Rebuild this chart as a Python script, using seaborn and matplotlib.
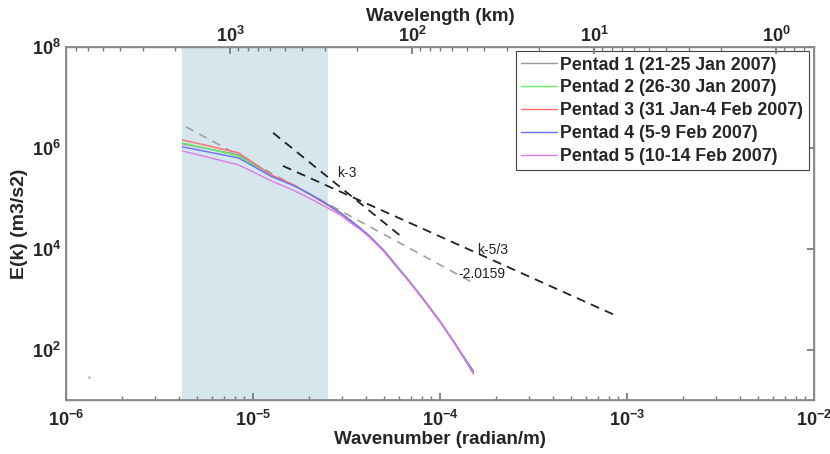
import numpy as np
import pandas as pd
import seaborn as sns
import matplotlib
matplotlib.use("Agg")
import matplotlib.pyplot as plt
from matplotlib.ticker import LogLocator, NullFormatter, FuncFormatter

# ---------------- data ----------------
domain_length_m = 1.5e6
dk = 2 * np.pi / domain_length_m
mode_index = [1, 2, 3, 4, 5, 6, 7, 8, 9, 10, 12, 14, 16, 18, 20, 24, 28, 32, 36]
wavenumber = [n * dk for n in mode_index]

pentad_labels = ["Pentad 1 (21-25 Jan 2007)", "Pentad 2 (26-30 Jan 2007)",
                 "Pentad 3 (31 Jan-4 Feb 2007)", "Pentad 4 (5-9 Feb 2007)",
                 "Pentad 5 (10-14 Feb 2007)"]
pentad1 = [1.20e6, 7.3e5, 2.80e5, 1.76e5, 1.11e5, 7.4e4, 5.10e4, 3.50e4, 2.45e4, 1.78e4,
           9.0e3, 4.50e3, 2.50e3, 1.44e3, 870, 350, 152, 70, 36]
pentad2 = [1.26e6, 6.9e5, 2.75e5, 1.78e5, 1.12e5, 7.5e4, 5.20e4, 3.55e4, 2.50e4, 1.80e4,
           9.2e3, 4.60e3, 2.55e3, 1.46e3, 880, 355, 150, 72, 38]
pentad3 = [1.44e6, 7.96e5, 2.90e5, 1.80e5, 1.10e5, 7.3e4, 5.00e4, 3.45e4, 2.40e4, 1.75e4,
           8.8e3, 4.40e3, 2.45e3, 1.40e3, 850, 345, 148, 68, 33]
pentad4 = [1.05e6, 6.3e5, 2.70e5, 1.74e5, 1.12e5, 7.5e4, 5.15e4, 3.55e4, 2.50e4, 1.80e4,
           9.1e3, 4.55e3, 2.50e3, 1.45e3, 875, 352, 153, 71, 37]
pentad5 = [8.7e5, 4.6e5, 2.20e5, 1.40e5, 9.2e4, 6.4e4, 4.66e4, 3.20e4, 2.35e4, 1.70e4,
           8.7e3, 4.40e3, 2.45e3, 1.42e3, 860, 348, 150, 69, 34]
pentad_colors = ["#9a9a9a", "#66ee66", "#ff6e6e", "#6e6eff", "#e07ae6"]

# reference slopes: (k start, k end, E at k start, slope)
k3_kstart, k3_kend, k3_E0, k3_slope = 1.28e-5, 6.27e-5, 1.99e6, -3.0
k53_kstart, k53_kend, k53_E0, k53_slope = 1.445e-5, 8.63e-4, 4.39e5, -5.0 / 3.0
fit_kstart, fit_kend, fit_E0, fit_slope = 4.39e-6, 1.5e-4, 2.61e6, -2.0159

# shaded band: wavelengths 1500 km to 250 km
band_wavelength_km = [1500, 250]
stray_point = (1.33e-6, 29)

# ---------------- style ----------------
sns.set_theme(style="white")
plt.rcParams["font.family"] = ["Liberation Sans", "DejaVu Sans"]
plt.rcParams["mathtext.fontset"] = "custom"
plt.rcParams["mathtext.rm"] = "Liberation Sans:bold"
plt.rcParams["mathtext.it"] = "Liberation Sans:bold"
plt.rcParams["mathtext.bf"] = "Liberation Sans:bold"
plt.rcParams["axes.unicode_minus"] = False

fig = plt.figure(figsize=(8.3, 4.54), dpi=100)
ax = fig.add_axes([66 / 830, 1 - 400 / 454, 748 / 830, 353 / 454])

rows = []
for lab, vals in zip(pentad_labels, [pentad1, pentad2, pentad3, pentad4, pentad5]):
    for k, e in zip(wavenumber, vals):
        rows.append({"k": k, "E": e, "pentad": lab})
df = pd.DataFrame(rows)

band_k = [2 * np.pi / (w * 1e3) for w in band_wavelength_km]
ax.axvspan(band_k[0], band_k[1], color="#d5e6ec", zorder=0, lw=0)

sns.lineplot(data=df, x="k", y="E", hue="pentad", palette=dict(zip(pentad_labels, pentad_colors)),
             estimator=None, sort=False, lw=1.0, ax=ax, zorder=3)

def ref_line(k0, k1, E0, s):
    kk = np.array([k0, k1])
    return kk, E0 * (kk / k0) ** s

kk, ee = ref_line(fit_kstart, fit_kend, fit_E0, fit_slope)
ax.plot(kk, ee, ls=(0, (5, 4)), color="#a0a0a0", lw=1.2, zorder=2)
kk, ee = ref_line(k3_kstart, k3_kend, k3_E0, k3_slope)
ax.plot(kk, ee, ls=(0, (5, 3.5)), color="#222222", lw=1.3, zorder=2)
kk, ee = ref_line(k53_kstart, k53_kend, k53_E0, k53_slope)
ax.plot(kk, ee, ls=(0, (5, 3.5)), color="#222222", lw=1.3, zorder=2)
ax.plot([stray_point[0]], [stray_point[1]], marker="o", ms=1, color="#bbbbbb", ls="none")

ax.text(3.18e-5, 3.18e5, "k-3", fontsize=10, ha="center", va="center", color="#222222")
ax.text(1.58e-4, 9.4e3, "k-5/3", fontsize=10, ha="left", va="center", color="#222222")
ax.text(1.25e-4, 3.13e3, "-2.0159", fontsize=10, ha="left", va="center", color="#222222")

pow_fmt = FuncFormatter(lambda v, p: r"$\mathbf{10^{%d}}$" % int(round(np.log10(v))))

ax.set_xscale("log")
ax.set_yscale("log")
ax.set_xlim(1e-6, 1e-2)
ax.set_ylim(1e1, 1e8)
ax.xaxis.set_major_locator(LogLocator(base=10, numticks=10))
ax.xaxis.set_major_formatter(pow_fmt)
ax.xaxis.set_minor_formatter(NullFormatter())
ax.yaxis.set_major_locator(LogLocator(base=100, numticks=10))
ax.yaxis.set_major_formatter(pow_fmt)
ax.yaxis.set_minor_locator(LogLocator(base=10, numticks=10))
ax.yaxis.set_minor_formatter(NullFormatter())
ax.set_xlabel("Wavenumber (radian/m)", fontsize=13.5, fontweight="bold", labelpad=1)
ax.set_ylabel("E(k) (m3/s2)", fontsize=14, fontweight="bold", labelpad=3)
ax.tick_params(axis="both", which="major", direction="in", length=5, labelsize=13,
               color="#777777", top=False, right=True)
ax.tick_params(axis="x", which="major", pad=7)
ax.tick_params(axis="x", which="minor", direction="in", length=3, color="#777777")
ax.tick_params(axis="y", which="minor", direction="in", length=0)
for sp in ax.spines.values():
    sp.set_color("#888888")
    sp.set_linewidth(1.0)

leg = ax.legend(loc="upper right", bbox_to_anchor=(0.993, 0.988), borderaxespad=0,
                fancybox=False, framealpha=1, edgecolor="#444444", handlelength=2.0,
                handletextpad=0.2, labelspacing=0.33, borderpad=0.3,
                prop={"weight": "bold", "size": 12.8})
leg.get_frame().set_linewidth(0.8)
leg.set_zorder(5)

# top axis: wavelength in km
ax2 = ax.twiny()
ax2.set_xscale("log")
ax2.set_xlim(10 ** 3.901, 10 ** -0.209)
ax2.xaxis.set_major_locator(LogLocator(base=10, numticks=10))
ax2.xaxis.set_major_formatter(pow_fmt)
ax2.xaxis.set_minor_formatter(NullFormatter())
ax2.set_xlabel("Wavelength (km)", fontsize=13.5, fontweight="bold", labelpad=3)
ax2.tick_params(axis="x", which="major", direction="in", length=5, labelsize=13,
                color="#777777", pad=1)
ax2.tick_params(axis="x", which="minor", direction="in", length=3, color="#777777")
for sp in ax2.spines.values():
    sp.set_color("#888888")

fig.savefig("out.png", dpi=100)
